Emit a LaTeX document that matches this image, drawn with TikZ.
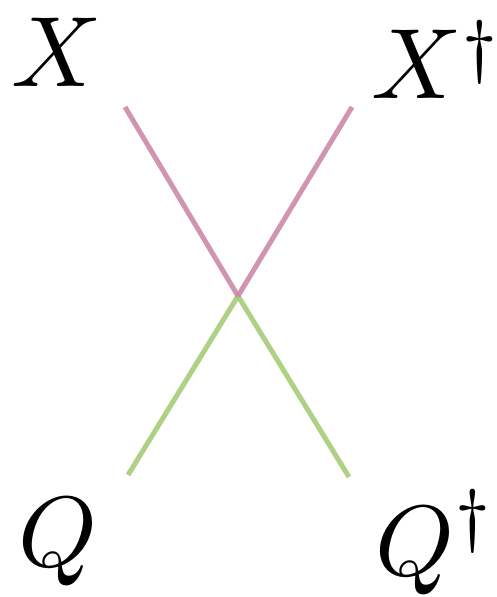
\documentclass[tikz,border=0pt]{standalone}
\definecolor{pinkline}{RGB}{204,138,170}
\definecolor{greenline}{RGB}{166,204,120}
\newcommand{\bigsym}[1]{\scalebox{10}{$#1$}}
\begin{document}
\begin{tikzpicture}[x=1pt,y=-1pt,
  lbl/.style={inner sep=0pt},
  pinkleg/.style={draw=pinkline,line width=5pt,opacity=0.9},
  greenleg/.style={draw=greenline,line width=5pt,opacity=0.9}]
\useasboundingbox (0,0) rectangle (497,597);
\node[lbl,anchor=base] (X) at (57,86) {\bigsym{X}};
\node[lbl,anchor=base west] (Xd) at (371,98) {\bigsym{X^{\raisebox{-0.8pt}{$\scriptstyle\dagger$}}}};
\node[lbl,anchor=base] (Q) at (58,566) {\bigsym{Q}};
\node[lbl,anchor=base west] (Qd) at (375,575) {\bigsym{Q^\dagger}};
\coordinate (a) at (125,107);
\coordinate (b) at (352,107);
\coordinate (c) at (238,296);
\coordinate (d) at (128,475);
\coordinate (e) at (349,477);
\draw[greenleg] (c) -- (d);
\draw[greenleg] (c) -- (e);
\draw[pinkleg] (a) -- (c);
\draw[pinkleg] (b) -- (c);
\end{tikzpicture}
\end{document}
